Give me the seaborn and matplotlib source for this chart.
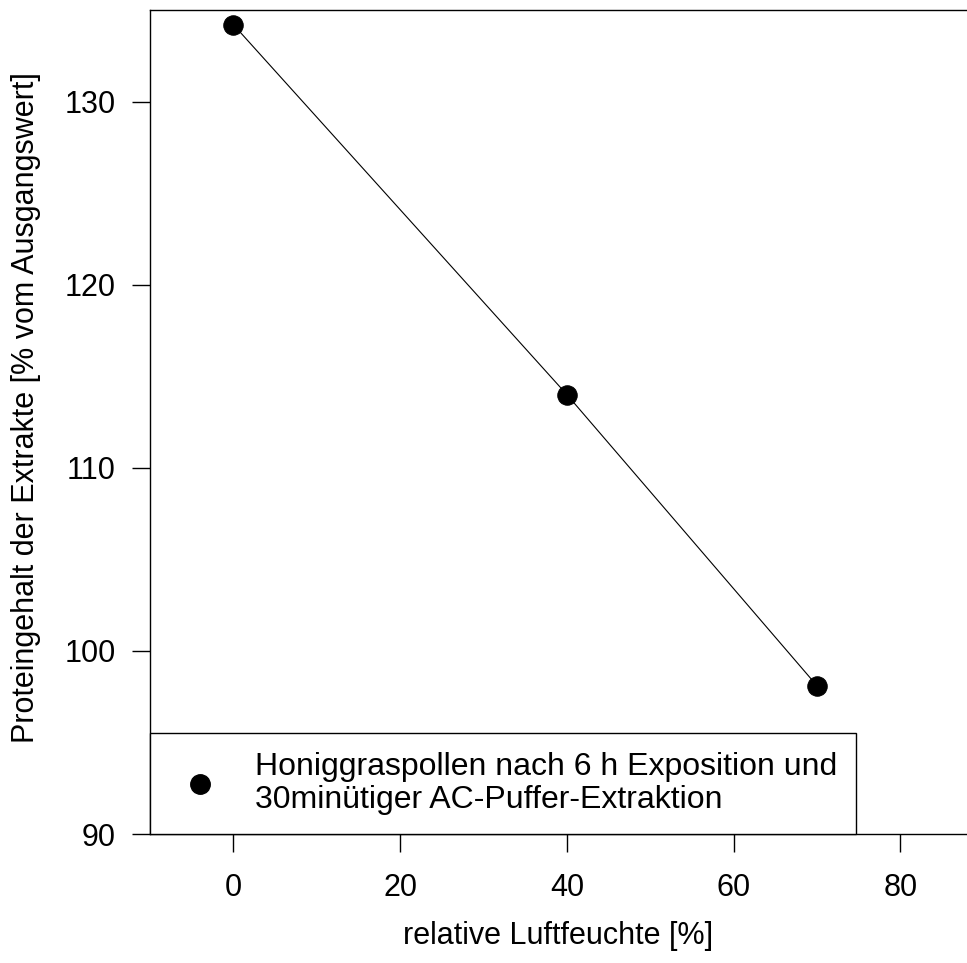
import matplotlib
matplotlib.use("Agg")
import matplotlib.pyplot as plt
import seaborn as sns
import pandas as pd
from matplotlib.lines import Line2D

humidity = [0, 40, 70]
protein = [134.2, 114.0, 98.1]
series_label = "Honiggraspollen nach 6 h Exposition und\n30minütiger AC-Puffer-Extraktion"
x_ticks = [0, 20, 40, 60, 80]
y_ticks = [90, 100, 110, 120, 130]

sns.set_theme(style="white")
plt.rcParams['font.family'] = ['Liberation Sans', 'DejaVu Sans']
plt.rcParams['text.color'] = 'black'

df = pd.DataFrame({"x": humidity, "y": protein})

fig = plt.figure(figsize=(9.67, 9.63), dpi=100)
ax = fig.add_axes([150/967, 1 - 834/963, (967-150)/967, (834-10)/963])

sns.lineplot(data=df, x="x", y="y", ax=ax, color="black", linewidth=0.8,
             marker="o", markersize=14, markeredgecolor="black",
             markerfacecolor="black", legend=False)

ax.set_xlim(-10, 88)
ax.set_ylim(90, 135)
ax.set_xticks(x_ticks)
ax.set_yticks(y_ticks)
ax.tick_params(axis="both", direction="out", length=13, width=1, color="black",
               labelsize=22, labelcolor="black", left=True, bottom=True)
ax.tick_params(axis="y", pad=11.5)
ax.tick_params(axis="x", pad=15)

for side in ["left", "bottom", "top"]:
    ax.spines[side].set_visible(True)
    ax.spines[side].set_color("black")
    ax.spines[side].set_linewidth(1)
ax.spines["right"].set_visible(False)

ax.set_xlabel("relative Luftfeuchte [%]", fontsize=22, color="black", labelpad=13)
ax.set_ylabel("Proteingehalt der Extrakte [% vom Ausgangswert]", fontsize=22,
              color="black", labelpad=17)
ax.yaxis.label.set_y(0.517)

handle = Line2D([], [], linestyle="none", marker="o", markersize=14,
                color="black")
leg = ax.legend([handle], [series_label], loc="lower left",
                bbox_to_anchor=(0, 0), fontsize=23, frameon=True,
                fancybox=False, edgecolor="black", borderpad=0.58,
                handletextpad=0.7, borderaxespad=0, labelcolor="black")
leg.get_frame().set_linewidth(1)
leg.get_frame().set_alpha(1)
for t in leg.get_texts():
    t.set_linespacing(1.17)

fig.savefig("out.png", dpi=100)
